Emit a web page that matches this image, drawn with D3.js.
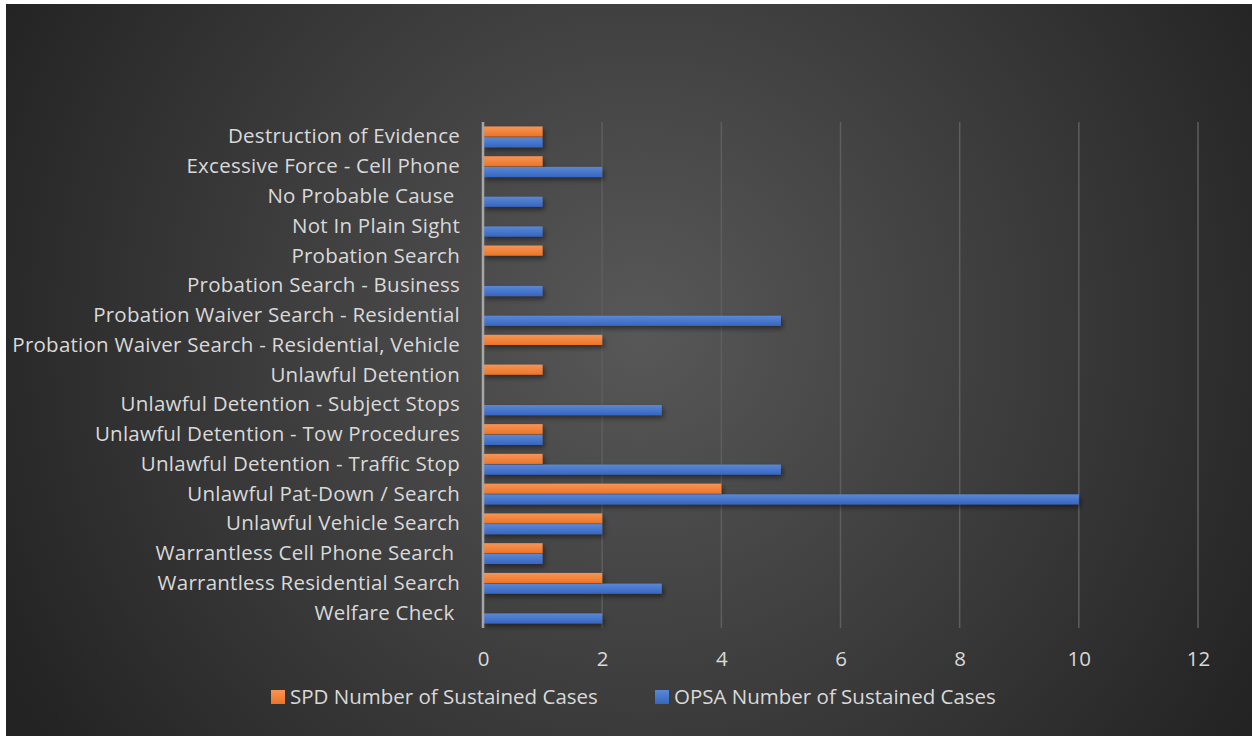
<!DOCTYPE html>
<html><head><meta charset="utf-8">
<script src="https://cdn.jsdelivr.net/npm/d3@7"></script>
<style>
html,body{margin:0;padding:0;background:#fff;}
svg{display:block;}
text{font-family:"Open Sans",Lato,sans-serif;white-space:pre;}
</style></head>
<body><svg id="c" width="1252" height="736"></svg>
<script>
const categories = [
  "Destruction of Evidence",
  "Excessive Force - Cell Phone",
  "No Probable Cause ",
  "Not In Plain Sight",
  "Probation Search",
  "Probation Search - Business",
  "Probation Waiver Search - Residential",
  "Probation Waiver Search - Residential, Vehicle",
  "Unlawful Detention",
  "Unlawful Detention - Subject Stops",
  "Unlawful Detention - Tow Procedures",
  "Unlawful Detention - Traffic Stop",
  "Unlawful Pat-Down / Search",
  "Unlawful Vehicle Search",
  "Warrantless Cell Phone Search ",
  "Warrantless Residential Search",
  "Welfare Check "
];
const spdValues  = [1,1,0,0,1,0,0,2,1,0,1,1,4,2,1,2,0];
const opsaValues = [1,2,1,1,0,1,5,0,0,3,1,5,10,2,1,3,2];
const seriesNames = ["SPD Number of Sustained Cases","OPSA Number of Sustained Cases"];
const xTicks = [0,2,4,6,8,10,12];

const svg = d3.select("#c");
const W = 1252, H = 736;
const defs = svg.append("defs");
const bg = defs.append("radialGradient").attr("id","bg").attr("gradientUnits","userSpaceOnUse")
  .attr("cx",640).attr("cy",330).attr("r",720);
bg.append("stop").attr("offset","0%").attr("stop-color","#585858");
bg.append("stop").attr("offset","100%").attr("stop-color","#232323");
const go = defs.append("linearGradient").attr("id","go").attr("x1",0).attr("x2",0).attr("y1",0).attr("y2",1);
go.append("stop").attr("offset","0%").attr("stop-color","#f69555");
go.append("stop").attr("offset","100%").attr("stop-color","#ec7427");
const gb = defs.append("linearGradient").attr("id","gb").attr("x1",0).attr("x2",0).attr("y1",0).attr("y2",1);
gb.append("stop").attr("offset","0%").attr("stop-color","#5a88d6");
gb.append("stop").attr("offset","100%").attr("stop-color","#3766c0");
const f = defs.append("filter").attr("id","sh").attr("x","-5%").attr("y","-50%").attr("width","120%").attr("height","250%");
f.append("feDropShadow").attr("dx",2).attr("dy",3).attr("stdDeviation",2.5).attr("flood-color","#000").attr("flood-opacity",0.45);

svg.append("rect").attr("x",6).attr("y",4).attr("width",W-6).attr("height",H-4).attr("fill","url(#bg)");

const x = d3.scaleLinear().domain([0,12]).range([483,1198]);
const y = d3.scaleBand().domain(categories).range([122,628]).paddingInner(0.3).paddingOuter(0.15);
const ys = d3.scaleBand().domain([0,1]).range([0,y.bandwidth()]).paddingInner(0.05);

// gridlines
svg.append("g").selectAll("line").data(xTicks.filter(d=>d>0)).join("line")
  .attr("x1",d=>x(d)).attr("x2",d=>x(d)).attr("y1",122).attr("y2",628)
  .attr("stroke","#5e5e5e").attr("stroke-width",1.5);

// bars
const series = [spdValues, opsaValues];
const fills = ["url(#go)","url(#gb)"];
series.forEach((vals,si)=>{
  svg.append("g").attr("filter","url(#sh)").selectAll("rect")
    .data(categories.map((c,i)=>({c,v:vals[i]})).filter(d=>d.v>0)).join("rect")
    .attr("x",x(0)).attr("y",d=>y(d.c)+ys(si)).attr("width",d=>x(d.v)-x(0)).attr("height",ys.bandwidth())
    .attr("fill",fills[si]);
});

// baseline axis
svg.append("line").attr("x1",x(0)).attr("x2",x(0)).attr("y1",122).attr("y2",628)
  .attr("stroke","#a6a6a6").attr("stroke-width",2.5);

const FS = 20.5, LS = 0.25;
// category labels
const ya = d3.axisLeft(y).tickSize(0).tickPadding(0);
const yg = svg.append("g").attr("transform",`translate(460,0)`).call(ya);
yg.select(".domain").remove();
yg.selectAll("text").attr("fill","#d9d9d9").attr("font-size",FS).attr("letter-spacing",LS).attr("dy","0.32em");

// x axis labels
const xa = d3.axisBottom(x).tickValues(xTicks).tickSize(0).tickPadding(0);
const xg = svg.append("g").attr("transform","translate(0,659)").call(xa);
xg.select(".domain").remove();
xg.selectAll("text").attr("fill","#d9d9d9").attr("font-size",FS).attr("dy","0.32em");

// legend
const legend = [{name:seriesNames[0],fill:"url(#go)",x:271},{name:seriesNames[1],fill:"url(#gb)",x:655}];
const lg = svg.append("g").selectAll("g").data(legend).join("g").attr("transform",d=>`translate(${d.x},697)`);
lg.append("rect").attr("x",0).attr("y",-7).attr("width",14).attr("height",14).attr("fill",d=>d.fill);
lg.append("text").attr("x",19).attr("y",0).attr("dy","0.35em").attr("fill","#d9d9d9").attr("font-size",FS).text(d=>d.name);
</script></body></html>
